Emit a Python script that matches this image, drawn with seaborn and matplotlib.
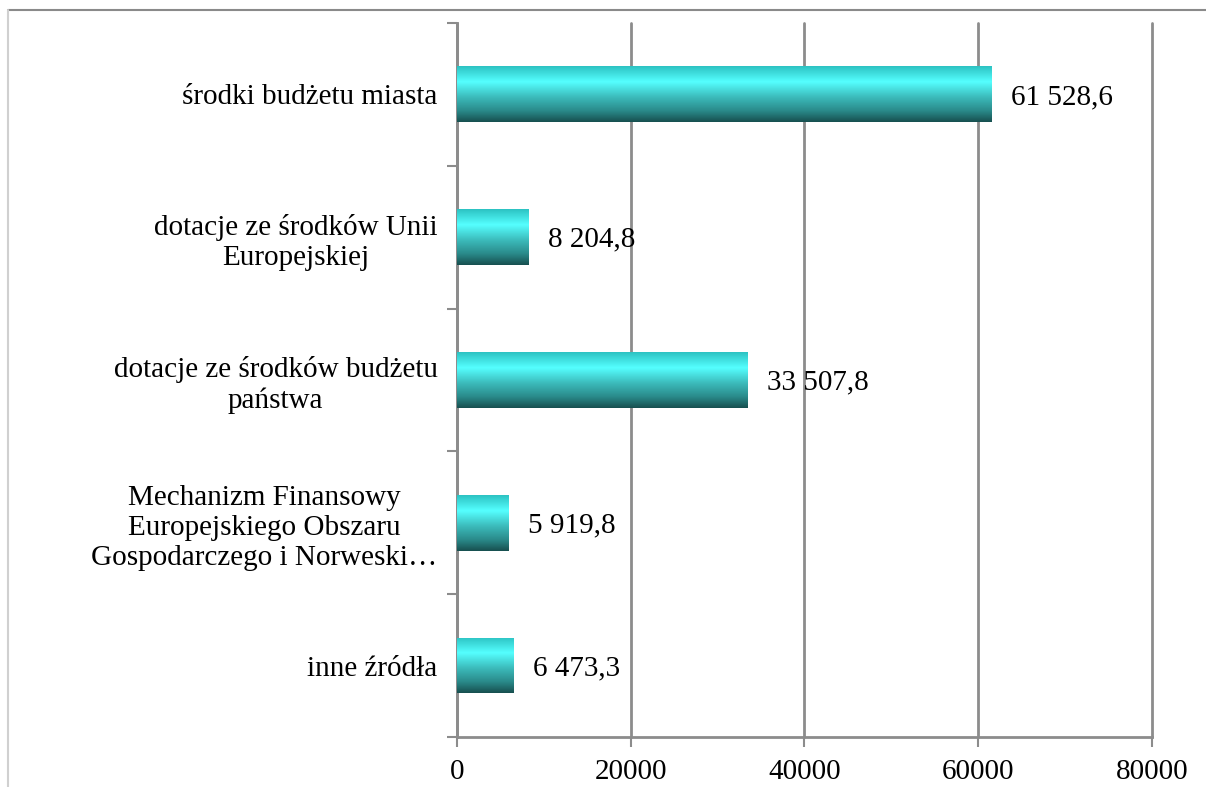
import numpy as np
import matplotlib
matplotlib.use('Agg')
import matplotlib.pyplot as plt
import seaborn as sns
import pandas as pd
from matplotlib.colors import LinearSegmentedColormap
from matplotlib.lines import Line2D

categories = [
    'środki budżetu miasta',
    'dotacje ze środków Unii\nEuropejskiej',
    'dotacje ze środków budżetu\npaństwa',
    'Mechanizm Finansowy\nEuropejskiego Obszaru\nGospodarczego i Norweski…',
    'inne źródła',
]
values = [61528.6, 8204.8, 33507.8, 5919.8, 6473.3]
x_ticks = [0, 20000, 40000, 60000, 80000]


def fmt_pl(v):
    """Polish number format: space thousands, comma decimal."""
    s = '{:,.1f}'.format(v)
    return s.replace(',', ' ').replace('.', ',')


sns.set_style('white')
plt.rcParams['font.family'] = ['Liberation Serif', 'DejaVu Serif']

df = pd.DataFrame({'kategoria': categories, 'wartosc': values})

fig = plt.figure(figsize=(12.06, 7.87), dpi=100)
ax = fig.add_axes([0.379, 0.0635, 0.576, 0.9075])

sns.barplot(data=df, x='wartosc', y='kategoria', orient='h', width=0.39,
            color='#40e0e0', ax=ax, zorder=3)

# vertical cyan gradient laid over each bar (top -> bottom)
grad = LinearSegmentedColormap.from_list('cyl', [
    (0.0, '#2cc2c2'), (0.28, '#55ffff'), (0.55, '#3cbcbc'),
    (0.8, '#2a8a8a'), (1.0, '#174f4f')])
g = np.linspace(0, 1, 256).reshape(-1, 1)
for bar in ax.patches:
    x0, y0 = bar.get_x(), bar.get_y()
    w, h = bar.get_width(), bar.get_height()
    im = ax.imshow(g, cmap=grad, aspect='auto', zorder=4,
                   extent=[x0, x0 + w, y0, y0 + h], origin='lower')
    bar.set_edgecolor('none')
    im.set_clip_path(bar)

for bar, v in zip(ax.patches, values):
    ax.annotate(fmt_pl(v), (bar.get_width(), bar.get_y() + bar.get_height() / 2),
                xytext=(14, -2), textcoords='offset points', va='center', ha='left',
                fontsize=21, color='black', zorder=5)

ax.set_xlim(0, 80000)
ax.set_ylim(len(categories) - 0.5, -0.5)
ax.set_xticks(x_ticks)
ax.set_xticklabels([str(t) for t in x_ticks], fontsize=21, color='black')
ax.xaxis.grid(True, color='#8c8c8c', linewidth=2, zorder=1)
for gl in ax.get_xgridlines():
    gl.set_clip_on(False)
ax.set_axisbelow(True)
ax.set_xlabel('')
ax.set_ylabel('')

ax.set_yticks(np.arange(len(categories)))
ax.set_yticklabels(categories, fontsize=21, color='black')
for lbl in ax.get_yticklabels():
    lbl.set_multialignment('center')
ax.set_yticks(np.arange(len(categories) + 1) - 0.5, minor=True)
ax.tick_params(axis='y', which='major', length=0, pad=14)
ax.tick_params(axis='y', which='minor', length=7, width=1.5, color='#8c8c8c', left=True)
ax.tick_params(axis='x', which='major', length=7, width=1.5, color='#8c8c8c', bottom=True, pad=9)

for side in ['top', 'right']:
    ax.spines[side].set_visible(False)
for side in ['left', 'bottom']:
    ax.spines[side].set_color('#8c8c8c')
    ax.spines[side].set_linewidth(2)

# outer frame lines from the cropped report page
fig.add_artist(Line2D([0.007, 1.0], [0.987, 0.987], transform=fig.transFigure,
                      color='#8a8a8a', linewidth=1.5))
fig.add_artist(Line2D([0.007, 0.007], [0.0, 0.987], transform=fig.transFigure,
                      color='#d0d0d0', linewidth=1.5))

fig.savefig('out.png', dpi=100)
